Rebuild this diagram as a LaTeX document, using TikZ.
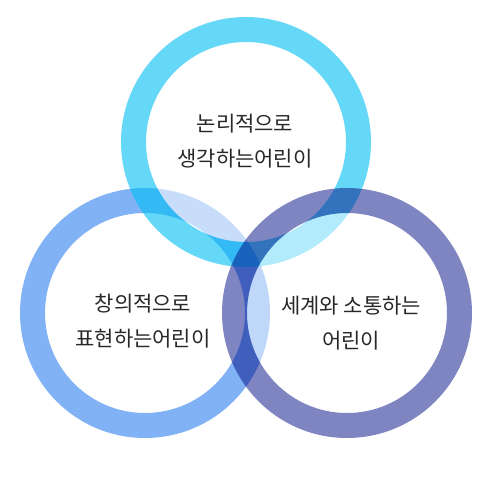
\documentclass[tikz,border=0pt]{standalone}
\usepackage{fontspec}
\newfontfamily\kr{Noto Sans CJK KR}
\definecolor{ringL}{RGB}{128,178,245}
\definecolor{ringT}{RGB}{0,191,243}
\definecolor{ringR}{RGB}{1,13,133}
\definecolor{txt}{RGB}{40,40,40}
\tikzset{
  ringband/.style={line width=25pt},
  label/.style={align=center, text=txt, font=\kr\fontsize{21}{35}\selectfont, inner sep=0pt}
}
\begin{document}
\begin{tikzpicture}[x=1pt,y=-1pt]
\useasboundingbox[fill=white] (0,0) rectangle (500,482);
% left circle
\coordinate (cl) at (145,313);
\draw[ringband, draw=ringL] (cl) circle[radius=112.5];
% top circle
\coordinate (ct) at (246,142);
\fill[white, fill opacity=0.57] (ct) circle[radius=100];
\draw[ringband, draw=ringT, draw opacity=0.6] (ct) circle[radius=112.5];
% right circle
\coordinate (cr) at (347,313);
\fill[white, fill opacity=0.5] (cr) circle[radius=100];
\draw[ringband, draw=ringR, draw opacity=0.5] (cr) circle[radius=112.5];
% labels
\node[label] (tt) at (245,141) {논리적으로\\생각하는어린이};
\node[label] (tl) at (143,321) {창의적으로\\표현하는어린이};
\node[label] (tr) at (351,323) {세계와 소통하는\\어린이};
\end{tikzpicture}
\end{document}
